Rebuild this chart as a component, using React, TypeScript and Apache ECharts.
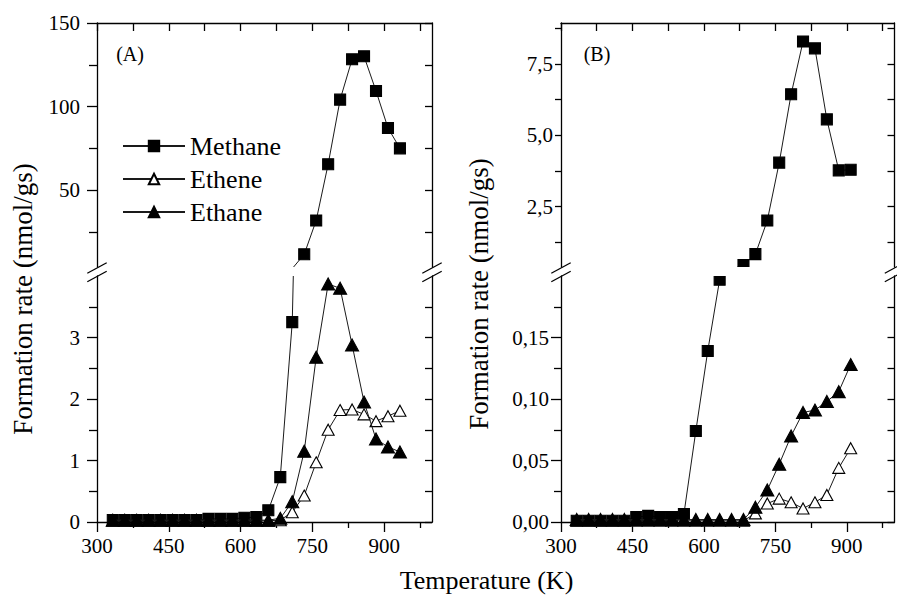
import React, { useEffect, useRef } from "react";
import * as echarts from "echarts";

// ---------- data ----------
const tempA = [333, 358, 383, 408, 433, 458, 483, 508, 533, 558, 583, 608, 633, 658, 683, 708, 733, 758, 783, 808, 833, 858, 883, 908, 933];
const tempB = [333, 358, 383, 408, 433, 458, 483, 508, 533, 558, 583, 608, 633, 658, 683, 708, 733, 758, 783, 808, 833, 858, 883, 908];

const methaneA = [0.03, 0.03, 0.03, 0.03, 0.03, 0.03, 0.03, 0.03, 0.05, 0.05, 0.05, 0.07, 0.08, 0.19, 0.73, 3.25, 11.8, 32.0, 65.6, 104.2, 128.3, 130.1, 109.4, 87.3, 75.1];
const etheneA = [0.02, 0.02, 0.02, 0.02, 0.02, 0.02, 0.02, 0.02, 0.02, 0.02, 0.02, 0.02, 0.02, 0.02, 0.03, 0.16, 0.43, 0.97, 1.5, 1.82, 1.83, 1.75, 1.64, 1.72, 1.81];
const ethaneA = [0.03, 0.03, 0.03, 0.03, 0.03, 0.03, 0.03, 0.03, 0.03, 0.03, 0.03, 0.03, 0.03, 0.03, 0.06, 0.33, 1.15, 2.68, 3.87, 3.8, 2.88, 1.95, 1.35, 1.22, 1.14];

const methaneB = [0.001, 0.001, 0.001, 0.001, 0.001, 0.004, 0.005, 0.004, 0.004, 0.0065, 0.074, 0.139, 0.197, 0.3, 0.45, 0.83, 2.01, 4.04, 6.44, 8.29, 8.05, 5.56, 3.77, 3.79];
const etheneB = [0.001, 0.001, 0.001, 0.001, 0.001, 0.001, 0.001, 0.001, 0.001, 0.001, 0.001, 0.001, 0.001, 0.001, 0.001, 0.007, 0.015, 0.019, 0.016, 0.011, 0.016, 0.022, 0.044, 0.06];
const ethaneB = [0.002, 0.002, 0.002, 0.002, 0.002, 0.002, 0.002, 0.002, 0.002, 0.002, 0.002, 0.002, 0.002, 0.002, 0.002, 0.012, 0.026, 0.047, 0.07, 0.089, 0.091, 0.098, 0.106, 0.128];

const seriesNames = ["Methane", "Ethene", "Ethane"];

const xMajorTicks = [300, 450, 600, 750, 900];
const xMinorTicks = [375, 525, 675, 825, 975];
const xAllTicks = [300, 375, 450, 525, 600, 675, 750, 825, 900, 975];

const yMajorAUpper = [50, 100, 150];
const yMinorAUpper = [25, 75, 125];
const yMajorALower = [0, 1, 2, 3];
const yMinorALower = [0.5, 1.5, 2.5, 3.5];
const yMajorBUpper = [2.5, 5, 7.5];
const yMinorBUpper = [1.25, 3.75, 6.25, 8.75];
const yMajorBLower = [0, 0.05, 0.1, 0.15];
const yMinorBLower = [0.025, 0.075, 0.125, 0.175];

// ---------- style ----------
const FONT = "'Liberation Serif', 'Times New Roman', Times, serif";
const INK = "#000";
const AXW = 1.3;

const UPPER_TOP = 23;
const UPPER_H = 244;
const LOWER_TOP = 276;
const LOWER_H = 246;

const fmtA = (v: number) => String(v);
const fmtB1 = (v: number) => v.toFixed(1).replace(".", ",");
const fmtB2 = (v: number) => v.toFixed(2).replace(".", ",");

const panels = [
  {
    temps: tempA, methane: methaneA, ethene: etheneA, ethane: ethaneA,
    left: 97, width: 335,
    parts: [
      { min: 4.2, max: 150, major: yMajorAUpper, minor: yMinorAUpper, fmt: fmtA, margin: 17, tick: 10, minorTick: 8 },
      { min: 0, max: 4, major: yMajorALower, minor: yMinorALower, fmt: fmtA, margin: 17, tick: 10, minorTick: 8 },
    ],
  },
  {
    temps: tempB, methane: methaneB, ethene: etheneB, ethane: ethaneB,
    left: 561, width: 333.5,
    parts: [
      { min: 0.38, max: 8.94, major: yMajorBUpper, minor: yMinorBUpper, fmt: fmtB1, margin: 8, tick: 6, minorTick: 6 },
      { min: 0, max: 0.2, major: yMajorBLower, minor: yMinorBLower, fmt: fmtB2, margin: 12, tick: 10, minorTick: 7 },
    ],
  },
];

function buildOption() {
  const grids: any[] = [];
  const xAxes: any[] = [];
  const yAxes: any[] = [];
  const series: any[] = [];
  const lineStyle = { color: INK, width: AXW };

  panels.forEach((p) => {
    p.parts.forEach((part, k) => {
      const isUpper = k === 0;
      const gi = grids.length;
      grids.push({
        left: p.left,
        width: p.width,
        top: isUpper ? UPPER_TOP : LOWER_TOP,
        height: isUpper ? UPPER_H : LOWER_H,
        containLabel: false,
        outerBoundsMode: "none",
      });
      const xi = xAxes.length;
      if (isUpper) {
        xAxes.push({
          type: "value", gridIndex: gi, position: "top", min: 300, max: 1000,
          axisLine: { show: true, onZero: false, lineStyle },
          axisTick: { show: true, inside: true, length: 8, customValues: xAllTicks, lineStyle },
          axisLabel: { show: false },
          splitLine: { show: false },
        });
      } else {
        xAxes.push({
          type: "value", gridIndex: gi, position: "bottom", min: 300, max: 1000,
          axisLine: { show: true, onZero: false, lineStyle },
          axisTick: { show: true, inside: false, length: 10, customValues: xMajorTicks, lineStyle },
          axisLabel: { show: true, customValues: xMajorTicks, fontSize: 21, fontFamily: FONT, color: INK, margin: 13 },
          splitLine: { show: false },
        });
        xAxes.push({
          type: "value", gridIndex: gi, position: "bottom", min: 300, max: 1000,
          axisLine: { show: false, onZero: false },
          axisTick: { show: true, inside: false, length: 6, customValues: xMinorTicks, lineStyle },
          axisLabel: { show: false },
          splitLine: { show: false },
        });
      }
      const yi = yAxes.length;
      yAxes.push({
        type: "value", gridIndex: gi, position: "left", min: part.min, max: part.max,
        axisLine: { show: true, onZero: false, lineStyle },
        axisTick: { show: true, inside: false, length: part.tick, customValues: part.major, lineStyle },
        axisLabel: { show: true, customValues: part.major, formatter: part.fmt, fontSize: 21, fontFamily: FONT, color: INK, margin: part.margin },
        splitLine: { show: false },
      });
      yAxes.push({
        type: "value", gridIndex: gi, position: "left", min: part.min, max: part.max,
        axisLine: { show: false, onZero: false },
        axisTick: { show: true, inside: false, length: part.minorTick, customValues: part.minor, lineStyle },
        axisLabel: { show: false },
        splitLine: { show: false },
      });
      yAxes.push({
        type: "value", gridIndex: gi, position: "right", min: part.min, max: part.max,
        axisLine: { show: true, onZero: false, lineStyle },
        axisTick: { show: true, inside: true, length: 7, customValues: [...part.major, ...part.minor], lineStyle },
        axisLabel: { show: false },
        splitLine: { show: false },
      });

      const defs = [
        { name: seriesNames[0], vals: p.methane, symbol: "rect", size: 11, fill: INK },
        { name: seriesNames[1], vals: p.ethene, symbol: "triangle", size: [12, 11], fill: "#fff" },
        { name: seriesNames[2], vals: p.ethane, symbol: "triangle", size: [13, 12], fill: INK },
      ];
      defs.forEach((d, si) => {
        series.push({
          type: "line",
          name: d.name,
          xAxisIndex: xi,
          yAxisIndex: yi,
          data: p.temps.map((t, i) => [t, d.vals[i]]),
          symbol: d.symbol,
          symbolSize: d.size,
          showSymbol: true,
          clip: true,
          z: 2 + si,
          lineStyle: { color: "#1a1a1a", width: 1 },
          itemStyle: { color: d.fill, borderColor: INK, borderWidth: 1.1 },
          emphasis: { disabled: true },
        });
      });
    });
  });

  // axis-break gaps and marks
  const breakMarks: any[] = [];
  panels.forEach((p) => {
    breakMarks.push({
      type: "rect",
      shape: { x: p.left + 1, y: UPPER_TOP + UPPER_H, width: p.width - 2, height: LOWER_TOP - UPPER_TOP - UPPER_H },
      style: { fill: "#fff" },
      z: 90,
    });
  });
  const spineXs = [97, 432, 561, 894.5];
  const breakYs = [268, 276.5];
  spineXs.forEach((x) => {
    breakYs.forEach((y) => {
      breakMarks.push({
        type: "line",
        shape: { x1: x - 9.7, y1: y + 5.3, x2: x + 9.7, y2: y - 5.3 },
        style: { stroke: INK, lineWidth: 1.3 },
        z: 100,
      });
    });
  });

  const textStyle = (text: string, size: number) => ({
    text, fontSize: size, fontFamily: FONT, fill: INK, align: "center", verticalAlign: "middle",
  });

  const graphic = [
    ...breakMarks,
    { type: "text", x: 130, y: 54, style: textStyle("(A)", 20), z: 100 },
    { type: "text", x: 597, y: 54, style: textStyle("(B)", 20), z: 100 },
    { type: "text", x: 486.5, y: 580, style: textStyle("Temperature (K)", 26), z: 100 },
    { type: "text", x: 23, y: 299, rotation: Math.PI / 2, style: textStyle("Formation rate (nmol/gs)", 27), z: 100 },
    { type: "text", x: 479, y: 294, rotation: Math.PI / 2, style: textStyle("Formation rate (nmol/gs)", 27), z: 100 },
  ];

  return {
    animation: false,
    backgroundColor: "#fff",
    grid: grids,
    xAxis: xAxes,
    yAxis: yAxes,
    series,
    legend: {
      data: seriesNames,
      orient: "vertical",
      left: 117,
      top: 128,
      itemWidth: 62,
      itemHeight: 13,
      itemGap: 7,
      selectedMode: false,
      textStyle: { fontSize: 26, fontFamily: FONT, color: INK },
    },
    graphic,
  };
}

export default function App() {
  const ref = useRef<HTMLDivElement>(null);
  useEffect(() => {
    if (!ref.current) return;
    const chart = echarts.init(ref.current, undefined, { renderer: "svg" });
    chart.setOption(buildOption() as any);
    return () => chart.dispose();
  }, []);
  return (
    <div
      ref={ref}
      style={{ width: 897, height: 595, position: "absolute", left: 0, top: 0 }}
    />
  );
}
